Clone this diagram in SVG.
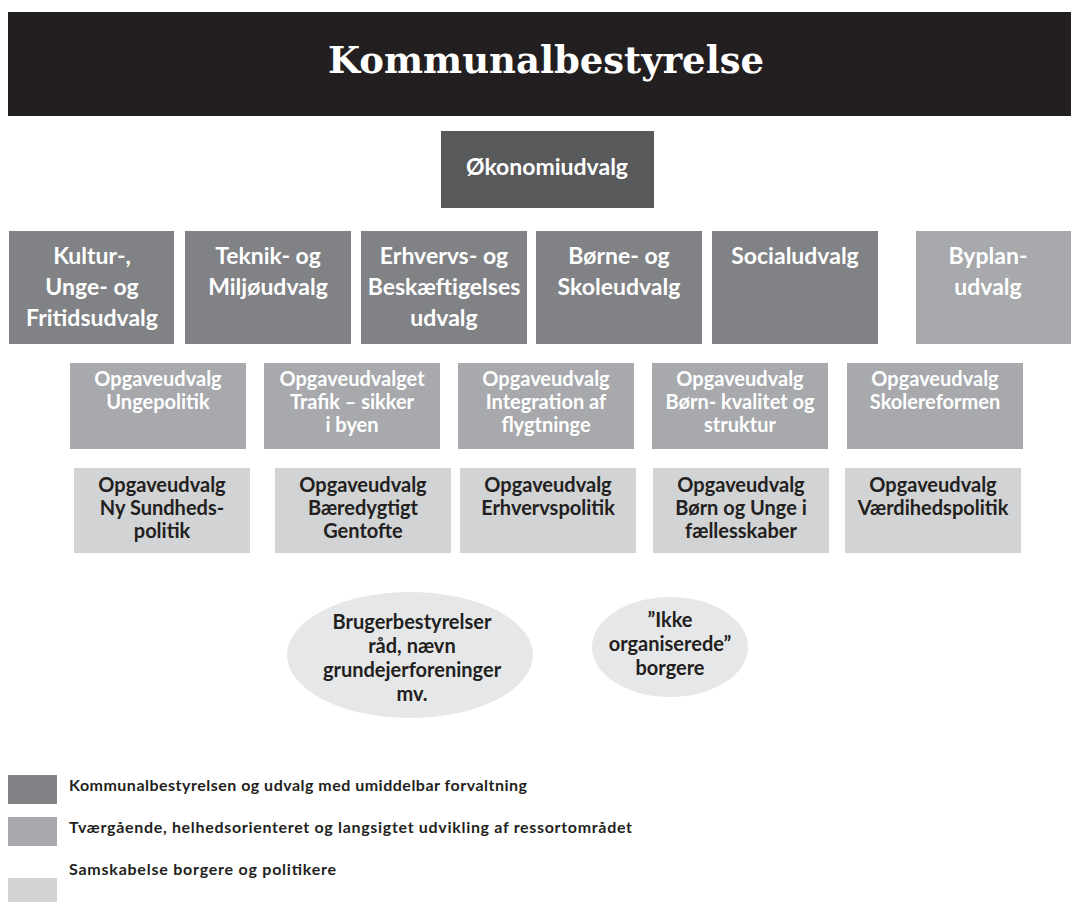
<svg xmlns="http://www.w3.org/2000/svg" width="1071" height="902" viewBox="0 0 1071 902">
<style>
.t{font-family:Lato,"Liberation Sans",sans-serif;font-weight:700;text-anchor:middle}
.w{fill:#ffffff}
.d{fill:#231f20}
.c1{font-size:23px}
.c2{font-size:20px}
.lg{font-family:Lato,"Liberation Sans",sans-serif;font-weight:700;font-size:16px;fill:#231f20}
.dark{fill:#808285}
.mid{fill:#a7a9ac}
.light{fill:#d1d3d4}
.ell{fill:#e6e7e8}
</style>
<rect width="1071" height="902" fill="#ffffff"/>
<g id="kommunalbestyrelse">
<rect x="8" y="12" width="1063" height="104" fill="#231f20"/>
<text x="546" y="73" textLength="436" lengthAdjust="spacingAndGlyphs" style="font-family:'DejaVu Serif','Liberation Serif',serif;font-weight:700;font-size:38px;fill:#fff;text-anchor:middle">Kommunalbestyrelse</text>
</g>
<g id="okonomiudvalg">
<rect x="441" y="131" width="213" height="77" fill="#58595b"/>
<text class="t w" x="547" y="175" style="font-size:23px">Økonomiudvalg</text>
</g>
<g id="kultur">
<rect class="dark" x="9" y="231" width="165" height="113"/>
<text class="t w c1" x="92" y="264">Kultur-,<tspan x="92" dy="31">Unge- og</tspan><tspan x="92" dy="31">Fritidsudvalg</tspan></text>
</g>
<g id="teknik">
<rect class="dark" x="185" y="231" width="166" height="113"/>
<text class="t w c1" x="268" y="264">Teknik- og<tspan x="268" dy="31">Miljøudvalg</tspan></text>
</g>
<g id="erhverv">
<rect class="dark" x="361" y="231" width="166" height="113"/>
<text class="t w c1" x="444" y="264">Erhvervs- og<tspan x="444" dy="31">Beskæftigelses</tspan><tspan x="444" dy="31">udvalg</tspan></text>
</g>
<g id="borne">
<rect class="dark" x="536" y="231" width="166" height="113"/>
<text class="t w c1" x="619" y="264">Børne- og<tspan x="619" dy="31">Skoleudvalg</tspan></text>
</g>
<g id="social">
<rect class="dark" x="712" y="231" width="166" height="113"/>
<text class="t w c1" x="795" y="264">Socialudvalg</text>
</g>
<g id="byplan">
<rect class="mid" x="916" y="231" width="155" height="113"/>
<text class="t w c1" x="988" y="264">Byplan-<tspan x="988" dy="31">udvalg</tspan></text>
</g>
<g id="ov-ungepolitik">
<rect class="mid" x="70" y="363" width="176" height="86"/>
<text class="t w c2" x="158" y="386">Opgaveudvalg<tspan x="158" dy="23">Ungepolitik</tspan></text>
</g>
<g id="ov-trafik">
<rect class="mid" x="264" y="363" width="176" height="86"/>
<text class="t w c2" x="352" y="386">Opgaveudvalget<tspan x="352" dy="23">Trafik – sikker</tspan><tspan x="352" dy="23">i byen</tspan></text>
</g>
<g id="ov-integration">
<rect class="mid" x="458" y="363" width="176" height="86"/>
<text class="t w c2" x="546" y="386">Opgaveudvalg<tspan x="546" dy="23">Integration af</tspan><tspan x="546" dy="23">flygtninge</tspan></text>
</g>
<g id="ov-born-kvalitet">
<rect class="mid" x="652" y="363" width="176" height="86"/>
<text class="t w c2" x="740" y="386">Opgaveudvalg<tspan x="740" dy="23">Børn- kvalitet og</tspan><tspan x="740" dy="23">struktur</tspan></text>
</g>
<g id="ov-skolereformen">
<rect class="mid" x="847" y="363" width="176" height="86"/>
<text class="t w c2" x="935" y="386">Opgaveudvalg<tspan x="935" dy="23">Skolereformen</tspan></text>
</g>
<g id="ov-sundhed">
<rect class="light" x="74" y="468" width="176" height="85"/>
<text class="t d c2" x="162" y="492">Opgaveudvalg<tspan x="162" dy="23">Ny Sundheds-</tspan><tspan x="162" dy="23">politik</tspan></text>
</g>
<g id="ov-baeredygtigt">
<rect class="light" x="275" y="468" width="176" height="85"/>
<text class="t d c2" x="363" y="492">Opgaveudvalg<tspan x="363" dy="23">Bæredygtigt</tspan><tspan x="363" dy="23">Gentofte</tspan></text>
</g>
<g id="ov-erhvervspolitik">
<rect class="light" x="460" y="468" width="176" height="85"/>
<text class="t d c2" x="548" y="492">Opgaveudvalg<tspan x="548" dy="23">Erhvervspolitik</tspan></text>
</g>
<g id="ov-born-unge">
<rect class="light" x="653" y="468" width="176" height="85"/>
<text class="t d c2" x="741" y="492">Opgaveudvalg<tspan x="741" dy="23">Børn og Unge i</tspan><tspan x="741" dy="23">fællesskaber</tspan></text>
</g>
<g id="ov-vaerdighed">
<rect class="light" x="845" y="468" width="176" height="85"/>
<text class="t d c2" x="933" y="492">Opgaveudvalg<tspan x="933" dy="23">Værdihedspolitik</tspan></text>
</g>
<g id="brugerbestyrelser">
<ellipse class="ell" cx="410" cy="655" rx="123" ry="63"/>
<text class="t d c2" x="412" y="629">Brugerbestyrelser<tspan x="412" dy="24">råd, nævn</tspan><tspan x="412" dy="24">grundejerforeninger</tspan><tspan x="412" dy="24">mv.</tspan></text>
</g>
<g id="ikke-organiserede">
<ellipse class="ell" cx="670" cy="647" rx="78" ry="50"/>
<text class="t d c2" x="670" y="627">”Ikke<tspan x="670" dy="24">organiserede”</tspan><tspan x="670" dy="24">borgere</tspan></text>
</g>
<g id="connectors"></g>
<g id="legend">
<rect class="dark" x="8" y="775" width="49" height="29"/>
<text class="lg" x="69" y="791" textLength="458" lengthAdjust="spacing">Kommunalbestyrelsen og udvalg med umiddelbar forvaltning</text>
<rect class="mid" x="8" y="817" width="49" height="29"/>
<text class="lg" x="69" y="833" textLength="563" lengthAdjust="spacing">Tværgående, helhedsorienteret og langsigtet udvikling af ressortområdet</text>
<rect class="light" x="8" y="878" width="49" height="24"/>
<text class="lg" x="69" y="875" textLength="267" lengthAdjust="spacing">Samskabelse borgere og politikere</text>
</g>
</svg>
